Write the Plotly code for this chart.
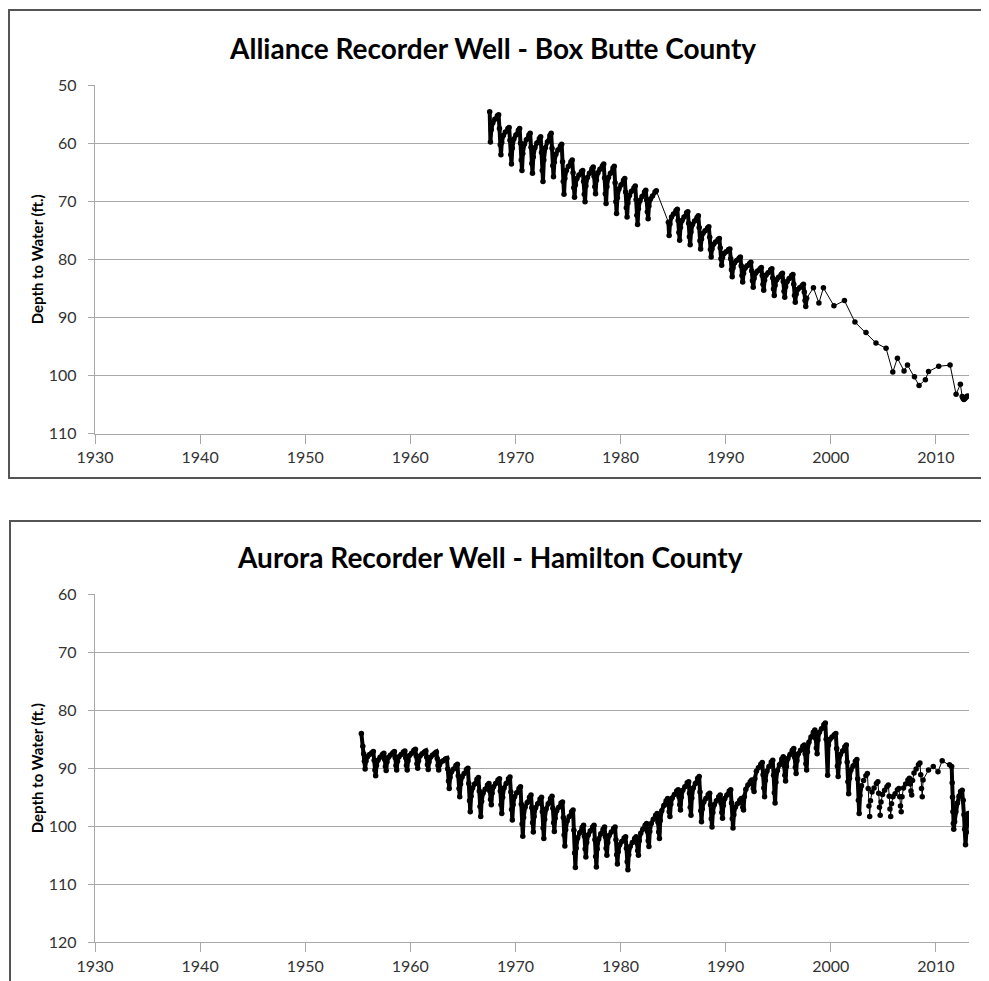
import plotly.graph_objects as go

# ------------------------------------------------------------------
# Alliance Recorder Well - Box Butte County (depth to water, ft)
# One row per year, readings at recurring points of the seasonal cycle
# ------------------------------------------------------------------
alliance_years = list(range(1967, 1998))
alliance_offsets = [0.04, 0.28, 0.40, 0.48, 0.55, 0.62, 0.70, 0.85]  # fraction of year
alliance_winter = [None, 55.9, 58.1, 58.6, 59.4, 60.0, 59.8, 61.2, 64.0, 65.5, 65.2, 64.5, 65.2, 67.2, 68.3, 69.2,
                   69.1, None, 72.2, 72.7, 73.4, 75.1, 77.0, 78.7, 80.2, 81.1, 82.0, 82.3, 83.1, 83.3, 84.9]
alliance_spring = [None, 55.3, 57.5, 57.8, 58.6, 59.2, 58.7, 60.5, 63.2, 64.9, 64.4, 63.9, 64.3, 66.4, 67.7, 68.4,
                   68.4, None, 71.6, 72.0, 72.8, 74.6, 76.6, 78.3, 79.8, 80.7, 81.6, 81.8, 82.6, 82.8, 84.5]
alliance_peak = [None, 55.1, 57.3, 57.5, 58.3, 58.9, 58.3, 60.2, 62.9, 64.7, 64.1, 63.6, 64.0, 66.1, 67.4, 68.1,
                 68.2, None, 71.4, 71.8, 72.5, 74.4, 76.4, 78.2, 79.6, 80.5, 81.4, 81.6, 82.4, 82.6, 84.3]
alliance_pump1 = [None, 57.5, 59.5, 60.0, 60.7, 61.6, 60.9, 63.2, 65.1, 66.6, 65.7, 66.0, 66.8, 68.4, 69.7, 69.8,
                  None, None, 73.3, 73.8, 74.5, 76.2, 78.0, 79.9, 81.1, 82.0, 82.8, 83.2, 83.8, 84.3, 85.6]
alliance_pump2 = [54.6, 60.3, 62.0, 62.9, 63.5, 64.7, 63.9, 66.6, 67.7, 68.8, 67.5, 68.7, 70.1, 71.1, 72.4, 71.8,
                  None, 73.6, 75.4, 76.1, 76.8, 78.3, 79.9, 81.8, 82.8, 83.7, 84.3, 85.1, 85.5, 86.2, 87.1]
alliance_low = [59.8, 62.0, 63.6, 64.7, 65.2, 66.6, 65.8, 68.8, 69.3, 70.1, 68.7, 70.4, 72.1, 72.7, 74.0, 73.0,
                None, 75.9, 76.7, 77.5, 78.2, 79.6, 81.0, 83.0, 83.9, 84.8, 85.3, 86.2, 86.5, 87.4, 88.1]
alliance_rec1 = [57.7, 59.9, 60.9, 61.8, 62.4, 62.9, 63.3, 66.1, 67.2, 67.4, 66.4, 67.5, 69.4, 70.3, 71.3, 70.8,
                 None, 73.9, 74.5, 75.3, 76.5, 78.2, 79.7, 81.5, 82.4, 83.3, 83.6, 84.5, 84.7, 86.0, 86.7]
alliance_rec2 = [56.5, 58.7, 59.3, 60.2, 60.8, 60.8, 61.9, 64.7, 66.1, 65.9, 65.1, 65.9, 67.9, 69.0, 69.9, 69.6,
                 None, 72.7, 73.3, 74.0, 75.5, 77.4, 79.0, 80.6, 81.5, 82.4, 82.7, 83.5, 83.8, 85.2, None]
# later, occasional measurements
alliance_late_x = [1998.35, 1998.87, 1999.30, 2000.30, 2001.30, 2002.30, 2003.35, 2004.30, 2005.26, 2005.90,
                   2006.34, 2006.97, 2007.30, 2007.96, 2008.40, 2009.00, 2009.30, 2010.27, 2011.35, 2011.92,
                   2012.33, 2012.50, 2012.58, 2012.66, 2012.74, 2012.82, 2012.90, 2013.00]
alliance_late_y = [84.9, 87.5, 84.9, 88.0, 87.1, 90.8, 92.6, 94.4, 95.3, 99.4,
                   97.0, 99.2, 98.2, 100.2, 101.7, 100.7, 99.3, 98.4, 98.2, 103.2,
                   101.5, 103.6, 103.9, 104.1, 104.0, 103.8, 103.7, 103.5]
alliance_dense_spans = [(1967.0, 1983.5), (1984.5, 1997.8)]

# ------------------------------------------------------------------
# Aurora Recorder Well - Hamilton County (depth to water, ft)
# ------------------------------------------------------------------
aurora_years = list(range(1955, 2009))
aurora_offsets = [0.12, 0.34, 0.48, 0.56, 0.63, 0.70, 0.78, 0.92]
aurora_winter = [None, 87.6, 88.1, 87.7, 87.6, 87.4, 87.5, 87.7, 88.7, 90.1, 90.9, 92.7, 93.6, 92.6, 92.6, 94.2,
                 95.9, 96.1, 96.1, 96.7, 98.3, 101.1, 100.8, 101.3, 101.0, 102.6, 102.8, 100.5, 98.8, 96.4, 94.5,
                 93.2, 92.6, 95.2, 95.6, 94.6, 96.1, 92.9, 89.9, 89.7, 89.4, 87.6, 86.9, 84.6, 83.2, 84.6, 87.0,
                 89.6, 92.1, 93.4, 93.8, 94.4, 92.7, 90.1]
aurora_spring = [84.0, 87.3, 87.6, 87.3, 87.2, 86.9, 87.2, 87.4, 88.4, 89.5, 90.2, 91.9, 92.9, 92.0, 91.8, 93.5,
                 95.0, 95.3, 95.2, 96.0, 97.5, 100.2, 100.1, 100.5, 100.4, 102.0, 102.1, 99.8, 98.1, 95.6, 93.9,
                 92.5, 91.7, 94.5, 94.9, 93.9, 95.5, 92.3, 89.3, 88.9, 88.4, 86.9, 86.2, 83.8, 82.5, 84.2, 86.3,
                 88.8, 91.3, 92.6, 93.2, 93.7, 92.0, 89.4]
aurora_peak = [86.2, 87.1, 87.4, 87.1, 87.0, 86.7, 87.0, 87.2, 88.3, 89.3, 90.0, 91.6, 92.6, 91.8, 91.5, 93.2,
               94.6, 95.0, 94.8, 95.8, 97.2, 99.8, 99.8, 100.1, 100.1, 101.8, 101.8, 99.5, 97.8, 95.2, 93.7,
               92.3, 91.4, 94.3, 94.6, 93.7, 95.2, 92.0, 89.0, 88.6, 88.0, 86.6, 86.0, 83.4, 82.2, 84.0, 86.0,
               88.5, 90.9, 92.3, 92.9, 93.5, 91.7, 89.1]
aurora_pump1 = [87.5, 88.6, 88.5, 88.2, 88.2, 87.9, 88.1, 88.3, 90.1, 91.3, 92.6, 93.9, 93.9, 93.9, 94.1, 96.2,
                96.8, 97.5, 96.9, 98.5, 100.7, 101.7, 102.3, 101.8, 102.3, 103.8, 102.9, 100.9, 99.3, 96.3, 94.9,
                94.3, 94.1, 96.3, 96.0, 96.0, 95.9, 92.7, 91.1, 91.2, 89.5, 88.1, 87.5, 84.8, 85.0, 86.6, 88.9,
                91.8, 93.5, 94.3, 94.8, 94.9, 92.7, 91.1]
aurora_pump2 = [88.8, 90.3, 89.7, 89.5, 89.5, 89.2, 89.4, 89.5, 92.2, 93.5, 95.6, 96.6, 95.4, 96.3, 97.1, 99.6,
                99.4, 100.3, 99.4, 101.5, 104.6, 103.9, 105.2, 103.8, 104.9, 106.1, 104.2, 102.5, 101.0, 97.5, 96.3,
                96.7, 97.3, 98.7, 97.6, 98.7, 96.7, 93.5, 93.4, 94.2, 91.2, 89.8, 89.2, 86.5, None, 89.6, 92.3,
                95.5, 96.5, 96.7, 97.0, 96.5, 93.9, 93.5]
aurora_low = [90.1, 91.3, 90.4, 90.3, 90.3, 90.0, 90.2, 90.3, 93.5, 94.9, 97.5, 98.3, 96.3, 97.8, 98.9, 101.7,
              101.0, 102.1, 100.9, 103.4, 107.1, 105.3, 107.0, 105.0, 106.5, 107.5, 105.0, 103.5, 102.1, 98.3, 97.2,
              98.1, 99.2, 100.1, 98.6, 100.3, 97.2, 94.0, 94.9, 96.0, 92.2, 90.9, 90.3, 87.5, 91.2, 91.4, 94.4,
              97.8, 98.3, 98.1, 98.3, 97.5, 94.6, 94.9]
aurora_rec1 = [88.8, 89.5, 88.9, 88.8, 88.7, 88.7, 88.9, 89.4, 91.6, 92.7, 94.8, 95.7, 94.3, 95.0, 96.3, 98.5,
               98.3, 98.8, 98.6, 100.6, 103.8, 102.8, 103.9, 102.8, 104.4, 104.9, 102.5, 100.9, 99.0, 96.2, 95.0,
               95.1, 97.0, 97.6, 96.4, 98.0, 94.9, 91.8, 92.1, 92.4, 89.7, 88.7, 87.2, 85.1, 86.0, 89.0, 91.7,
               94.7, 95.6, 95.8, 96.1, 94.9, 92.1, 92.0]
aurora_rec2 = [88.0, 88.6, 88.1, 88.0, 87.8, 87.9, 88.1, 88.9, 90.6, 91.5, 93.4, 94.3, 93.2, 93.4, 94.9, 96.7,
               96.8, 97.0, 97.3, 99.1, 102.0, 101.5, 102.2, 101.6, 103.2, 103.5, 101.2, 99.5, 97.3, 95.1, 93.8,
               93.4, 95.8, 96.3, 95.2, 96.7, 93.6, 90.5, 90.5, 90.4, 88.3, 87.5, 85.5, 83.8, 85.0, 87.6, 90.3,
               93.0, 94.1, 94.5, 94.9, 93.4, 90.8, None]
aurora_late_x = [2009.30, 2009.75, 2010.20, 2010.60, 2011.30, 2011.50, 2011.55, 2011.58, 2011.62, 2011.66,
                 2011.70, 2011.78, 2011.90, 2012.05, 2012.20, 2012.35, 2012.50, 2012.60, 2012.67, 2012.74,
                 2012.82, 2012.90, 2012.98, 2013.08]
aurora_late_y = [90.3, 89.7, 90.6, 88.7, 89.4, 89.7, 92.5, 95.0, 97.5, 99.5,
                 100.5, 99.2, 97.5, 96.0, 94.8, 94.0, 93.8, 95.5, 98.0, 100.5,
                 103.2, 101.0, 99.0, 97.8]
aurora_dense_spans = [(1955.0, 2002.99), (2011.45, 2013.2)]

x_tick_years = [1930, 1940, 1950, 1960, 1970, 1980, 1990, 2000, 2010]


def build(years, offsets, cols, late_x, late_y):
    xs, ys = [], []
    for i, yr in enumerate(years):
        for col, off in zip(cols, offsets):
            v = col[i]
            if v is not None:
                xs.append(yr + off)
                ys.append(v)
    return xs + late_x, ys + late_y


al_x, al_y = build(alliance_years, alliance_offsets,
                   [alliance_winter, alliance_spring, alliance_peak, alliance_pump1,
                    alliance_pump2, alliance_low, alliance_rec1, alliance_rec2],
                   alliance_late_x, alliance_late_y)
au_x, au_y = build(aurora_years, aurora_offsets,
                   [aurora_winter, aurora_spring, aurora_peak, aurora_pump1,
                    aurora_pump2, aurora_low, aurora_rec1, aurora_rec2],
                   aurora_late_x, aurora_late_y)

FONT = "Lato, 'Open Sans', sans-serif"
GRID = "#A8A8A8"
fig = go.Figure()


def add_well(xs, ys, spans, xa, ya):
    # dense recorder periods: heavy band
    for a, b in spans:
        sx = [x for x in xs if a <= x <= b]
        sy = [y for x, y in zip(xs, ys) if a <= x <= b]
        fig.add_trace(go.Scatter(x=sx, y=sy, mode="lines", xaxis=xa, yaxis=ya,
                                 line=dict(color="black", width=4), hoverinfo="skip"))
    fig.add_trace(go.Scatter(x=xs, y=ys, mode="lines+markers", xaxis=xa, yaxis=ya,
                             line=dict(color="black", width=1),
                             marker=dict(color="black", size=5.5)))


add_well(al_x, al_y, alliance_dense_spans, "x", "y")
add_well(au_x, au_y, aurora_dense_spans, "x2", "y2")

W, H = 989, 981
OFF = 8  # page body margin


def fx(p):
    return (p - OFF) / W


def fy(p):
    return 1 - (p - OFF) / H


xdom = [fx(95), fx(969)]
top_dom = [fy(433.7), fy(85)]
bot_dom = [fy(942.3), fy(594.3)]

xcommon = dict(range=[1930, 2013.15], tickmode="array", tickvals=x_tick_years,
               ticktext=[str(v) for v in x_tick_years], showgrid=False, zeroline=False,
               showline=True, linecolor=GRID, linewidth=1.3, ticks="outside", ticklen=9,
               tickcolor=GRID, tickwidth=1.3, tickfont=dict(family=FONT, size=16, color="#333333"),
               domain=xdom, automargin=False)
ycommon = dict(dtick=10, showgrid=True, gridcolor=GRID, gridwidth=1.3, zeroline=False,
               showline=True, linecolor=GRID, linewidth=1.3, ticks="outside", ticklen=6,
               tickcolor=GRID, tickwidth=1.3, tickfont=dict(family=FONT, size=16, color="#333333"),
               ticklabelstandoff=8, automargin=False)

fig.update_layout(
    width=W, height=H, autosize=False,
    margin=dict(l=0, r=0, t=0, b=0, pad=0, autoexpand=False),
    paper_bgcolor="white", plot_bgcolor="white", showlegend=False,
    xaxis=dict(anchor="y", **xcommon),
    yaxis=dict(anchor="x", range=[110, 50], domain=top_dom, **ycommon),
    xaxis2=dict(anchor="y2", **xcommon),
    yaxis2=dict(anchor="x2", range=[120, 60], domain=bot_dom, **ycommon),
    shapes=[
        dict(type="rect", xref="paper", yref="paper", x0=fx(9), x1=fx(985),
             y0=fy(478), y1=fy(10), line=dict(color="#555555", width=2)),
        dict(type="rect", xref="paper", yref="paper", x0=fx(10), x1=fx(988),
             y0=-0.05, y1=fy(521), line=dict(color="#555555", width=2)),
    ],
    annotations=[
        dict(text="<b>Alliance Recorder Well - Box Butte County</b>", xref="paper", yref="paper",
             x=fx(492), y=fy(48), xanchor="center", yanchor="middle", showarrow=False,
             font=dict(family=FONT, size=28, color="black")),
        dict(text="<b>Aurora Recorder Well - Hamilton County</b>", xref="paper", yref="paper",
             x=fx(490), y=fy(557), xanchor="center", yanchor="middle", showarrow=False,
             font=dict(family=FONT, size=28, color="black")),
        dict(text="<b>Depth to Water (ft.)</b>", xref="paper", yref="paper", textangle=-90,
             x=fx(37), y=sum(top_dom) / 2, xanchor="center", yanchor="middle", showarrow=False,
             font=dict(family=FONT, size=15, color="black")),
        dict(text="<b>Depth to Water (ft.)</b>", xref="paper", yref="paper", textangle=-90,
             x=fx(37), y=sum(bot_dom) / 2, xanchor="center", yanchor="middle", showarrow=False,
             font=dict(family=FONT, size=15, color="black")),
    ],
)

fig.write_html("out.html")
